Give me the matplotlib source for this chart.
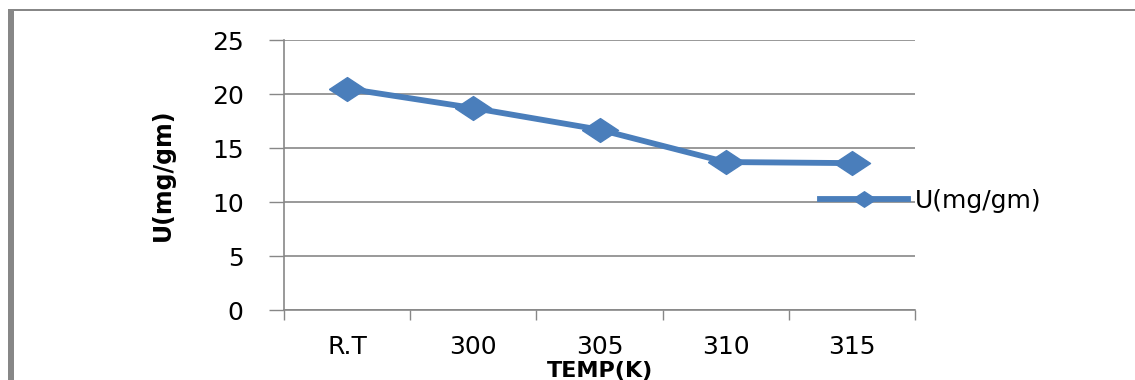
import numpy as np
import matplotlib
matplotlib.use("Agg")
import matplotlib.pyplot as plt
from matplotlib.patches import Rectangle

# data
categories = ["R.T", "300", "305", "310", "315"]
uptake = [20.5, 18.7, 16.7, 13.7, 13.6]
series_name = "U(mg/gm)"
yticks = [0, 5, 10, 15, 20, 25]

W, H = 1135, 380
blue = "#4A7EBB"
grey = "#878787"

plt.rcParams['font.family'] = ['DejaVu Sans']

fig = plt.figure(figsize=(W / 100, H / 100), dpi=100)
# plot area in pixels: x 284..915, y 40..310
ax = fig.add_axes([284 / W, (H - 310) / H, (915 - 284) / W, 270 / H])

# wide diamond, like the stretched one in the reference
diamond = [(-1, 0), (0, 0.66), (1, 0), (0, -0.66), (-1, 0)]
x = np.arange(len(categories))
ax.plot(x, uptake, color=blue, lw=4.2, marker=diamond, ms=26,
        mec=blue, mfc=blue, label=series_name, zorder=3)

ax.set_xlim(-0.5, len(categories) - 0.5)
ax.set_ylim(0, 25)
ax.set_yticks(yticks)
ax.set_yticklabels([str(v) for v in yticks], fontsize=18)

# category ticks at the boundaries, labels in the middle
ax.set_xticks(np.arange(-0.5, len(categories), 1.0))
ax.set_xticklabels([])
ax.set_xticks(x, minor=True)
ax.set_xticklabels(categories, minor=True, fontsize=18)
ax.tick_params(axis='x', which='major', direction='out', length=7, width=1, color=grey)
ax.tick_params(axis='x', which='minor', length=0, pad=18)
ax.tick_params(axis='y', which='major', direction='out', length=11, width=1, color=grey, pad=18)

ax.yaxis.grid(True, color=grey, lw=1.2)
ax.set_axisbelow(True)
for s in ['top', 'right']:
    ax.spines[s].set_visible(False)
for s in ['left', 'bottom']:
    ax.spines[s].set_color(grey)
    ax.spines[s].set_linewidth(1.2)

# axis titles
fig.text(163 / W, (H - 175) / H, "U(mg/gm)", rotation=90, fontsize=17,
         fontweight='bold', ha='center', va='center')
fig.text(600 / W, (H - 371) / H, "TEMP(K)", fontsize=16,
         fontweight='bold', ha='center', va='center')

# legend sitting on the right edge of the plot area
leg = ax.legend(loc='center left', bbox_to_anchor=(820 / W, (H - 201) / H),
                bbox_transform=fig.transFigure, frameon=False, fontsize=18,
                handlelength=3.5, handletextpad=0.3, markerscale=0.65,
                borderpad=0, borderaxespad=0)

# outer chart frame (left and top edges)
fig.add_artist(Rectangle((8 / W, 0), 6 / W, (H - 9) / H, transform=fig.transFigure,
                         facecolor=grey, edgecolor='none'))
fig.add_artist(Rectangle((8 / W, (H - 11) / H), (W - 8) / W, 2 / H,
                         transform=fig.transFigure, facecolor=grey, edgecolor='none'))

fig.savefig("out.png", dpi=100)
